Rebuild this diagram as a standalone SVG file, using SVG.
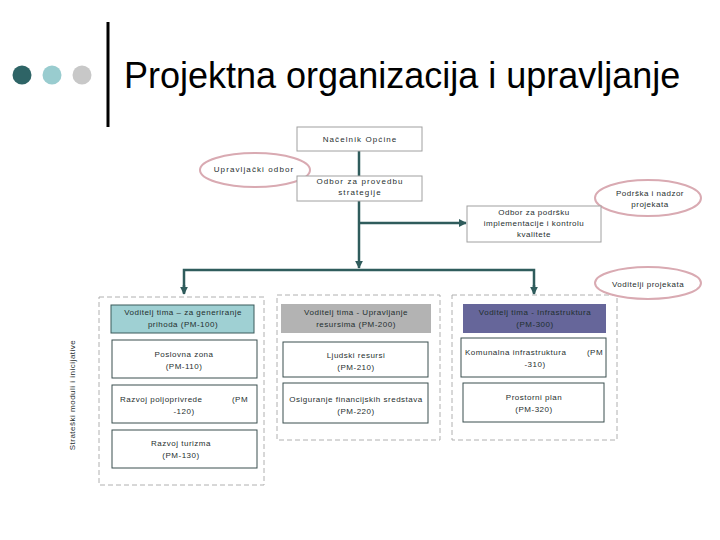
<svg xmlns="http://www.w3.org/2000/svg" width="720" height="540" viewBox="0 0 720 540">
<style>
.t{font-family:"Liberation Sans",Arial,sans-serif;font-size:8px;fill:#1f2f2f;text-anchor:middle;letter-spacing:0.5px}
.tt{font-family:"Liberation Sans",Arial,sans-serif;font-size:8px;fill:#1f2f2f;text-anchor:middle;letter-spacing:1.1px}
.title{font-family:"Liberation Sans",Arial,sans-serif;font-size:36px;fill:#000}
.wb{fill:#fff;stroke:#a0a0a0;stroke-width:1}
.pb{fill:#fff;stroke:#3a4f4f;stroke-width:1}
.ell{fill:#fff;stroke:#d9aab2;stroke-width:2}
.dash{fill:none;stroke:#b0b0b0;stroke-width:1;stroke-dasharray:5,3}
.con{fill:none;stroke:#2f5c5c;stroke-width:2.5}
</style>
<defs>
<marker id="ah" viewBox="0 0 10 10" refX="9" refY="5" markerWidth="3.2" markerHeight="3.2" orient="auto" markerUnits="strokeWidth">
<path d="M0,0 L10,5 L0,10 z" fill="#2f5c5c"/>
</marker>
</defs>
<rect width="720" height="540" fill="#fff"/>
<g id="header">
<circle cx="22" cy="75" r="9.5" fill="#2e6466"/>
<circle cx="52" cy="75" r="9.5" fill="#99cccf"/>
<circle cx="82" cy="75" r="9.5" fill="#c8c8c8"/>
<rect x="106.5" y="22" width="3" height="105" fill="#000"/>
<text class="title" x="124" y="88">Projektna organizacija i upravljanje</text>
</g>
<g id="containers">
<rect class="dash" x="99" y="297" width="165" height="188"/>
<rect class="dash" x="277" y="295" width="163" height="145"/>
<rect class="dash" x="452" y="295" width="165" height="145"/>
</g>
<g id="connectors">
<line class="con" x1="359" y1="151" x2="359" y2="176"/>
<line class="con" x1="359" y1="201" x2="359" y2="268" marker-end="url(#ah)"/>
<line class="con" x1="359" y1="223" x2="466" y2="223" marker-end="url(#ah)"/>
<polyline class="con" points="184,293 184,270 534,270 534,293"/>
<line class="con" x1="184" y1="285" x2="184" y2="294" marker-end="url(#ah)"/>
<line class="con" x1="534" y1="285" x2="534" y2="294" marker-end="url(#ah)"/>
</g>
<g id="upravljacki">
<ellipse class="ell" cx="255" cy="170" rx="55" ry="17"/>
<text class="tt" x="254" y="172">Upravljački odbor</text>
</g>
<g id="nacelnik">
<rect class="wb" x="297" y="127" width="125" height="24"/>
<text class="tt" x="360" y="142">Načelnik Općine</text>
</g>
<g id="provedba">
<rect class="wb" x="297" y="176" width="125" height="25"/>
<text class="tt" x="360" y="184">Odbor za provedbu</text>
<text class="tt" x="360" y="195">strategije</text>
</g>
<g id="podrska">
<ellipse class="ell" cx="648" cy="198" rx="53" ry="18"/>
<text class="t" x="650" y="196">Podrška i nadzor</text>
<text class="t" x="650" y="207">projekata</text>
</g>
<g id="implementacija">
<rect class="wb" x="467" y="206" width="134" height="36"/>
<text class="t" x="534" y="215">Odbor za podršku</text>
<text class="t" x="534" y="226">implementacije i kontrolu</text>
<text class="t" x="534" y="237">kvalitete</text>
</g>
<g id="voditelji">
<ellipse class="ell" cx="648" cy="283" rx="53" ry="16"/>
<text class="t" x="648" y="287">Voditelji projekata</text>
</g>
<g id="strateski">
<text class="t" transform="translate(75,395) rotate(-90)">Strateški moduli i inicijative</text>
</g>
<g id="pm100">
<rect x="111" y="305" width="143" height="28" fill="#9fd0d3" stroke="#3a5a5a" stroke-width="1"/>
<text class="t" x="183" y="315">Voditelj tima – za generiranje</text>
<text class="t" x="183" y="327">prihoda    (PM-100)</text>
</g>
<g id="pm110">
<rect class="pb" x="112" y="340" width="145" height="38"/>
<text class="t" x="184" y="357">Poslovna zona</text>
<text class="t" x="184" y="369">(PM-110)</text>
</g>
<g id="pm120">
<rect class="pb" x="112" y="385" width="145" height="38"/>
<text class="t" x="120" y="402" style="text-anchor:start">Razvoj poljoprivrede</text>
<text class="t" x="240" y="402">(PM</text>
<text class="t" x="184" y="414">-120)</text>
</g>
<g id="pm130">
<rect class="pb" x="112" y="430" width="145" height="38"/>
<text class="t" x="181" y="446">Razvoj turizma</text>
<text class="t" x="181" y="458">(PM-130)</text>
</g>
<g id="pm200">
<rect x="281" y="304" width="150" height="29" fill="#b3b3b3"/>
<text class="t" x="356" y="315">Voditelj tima -  Upravljanje</text>
<text class="t" x="356" y="327">resursima (PM-200)</text>
</g>
<g id="pm210">
<rect class="pb" x="283" y="342" width="145" height="35"/>
<text class="t" x="356" y="358">Ljudski resursi</text>
<text class="t" x="356" y="370">(PM-210)</text>
</g>
<g id="pm220">
<rect class="pb" x="283" y="383" width="145" height="40"/>
<text class="t" x="356" y="402">Osiguranje financijskih sredstava</text>
<text class="t" x="356" y="414">(PM-220)</text>
</g>
<g id="pm300">
<rect x="463" y="304" width="143" height="29" fill="#66669a"/>
<text class="t" x="535" y="315">Voditelj tima - Infrastruktura</text>
<text class="t" x="535" y="327">(PM-300)</text>
</g>
<g id="pm310">
<rect class="pb" x="461" y="338" width="145" height="39"/>
<text class="t" x="465" y="355" style="text-anchor:start">Komunalna infrastruktura</text>
<text class="t" x="595" y="355">(PM</text>
<text class="t" x="535" y="367">-310)</text>
</g>
<g id="pm320">
<rect class="pb" x="463" y="383" width="141" height="39"/>
<text class="t" x="534" y="400">Prostorni plan</text>
<text class="t" x="534" y="412">(PM-320)</text>
</g>
</svg>
